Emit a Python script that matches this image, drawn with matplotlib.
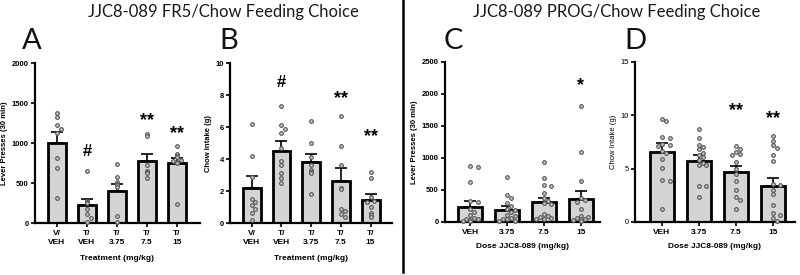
import matplotlib.pyplot as plt
import numpy as np

plt.rcParams['font.family'] = ['Liberation Sans', 'DejaVu Sans']

# ---- data ----
fr5_labels = ['V/\nVEH', 'T/\nVEH', 'T/\n3.75', 'T/\n7.5', 'T/\n15']
prog_labels = ['VEH', '3.75', '7.5', '15']

# A: FR5 lever presses
a_mean = [1000, 225, 398, 773, 745]
a_sem = [133, 72, 95, 92, 70]
a_pts = [
    [1380, 1320, 1230, 1180, 1120, 810, 690, 310],
    [650, 270, 260, 250, 170, 110, 60, 15],
    [740, 580, 510, 490, 470, 450, 90, 10],
    [1110, 1090, 730, 650, 640, 640, 630, 560],
    [960, 860, 840, 830, 790, 770, 760, 750, 240],
]
a_sig = ['', '#', '', '**', '**']
a_sig_y = [0, 900, 0, 1275, 1120]

# B: FR5 chow intake
b_mean = [2.2, 4.5, 3.83, 2.62, 1.46]
b_sem = [0.75, 0.6, 0.5, 0.83, 0.38]
b_pts = [
    [6.2, 4.2, 2.85, 1.5, 1.3, 1.1, 0.85, 0.6, 0.2],
    [7.3, 6.1, 5.9, 5.6, 4.7, 3.9, 3.6, 3.1, 2.8, 2.5],
    [6.4, 5.0, 4.1, 3.6, 3.3, 3.2, 3.1, 1.8],
    [6.7, 4.8, 3.6, 2.2, 2.1, 0.9, 0.75, 0.55, 0.4],
    [3.2, 2.8, 1.6, 1.4, 1.3, 1.0, 0.6, 0.5, 0.4],
]
b_sig = ['', '#', '', '**', '**']
b_sig_y = [0, 8.8, 0, 7.8, 5.4]

# C: PROG lever presses
c_mean = [230, 183, 314, 356]
c_sem = [100, 68, 68, 136]
c_pts = [
    [870, 860, 620, 330, 310, 200, 150, 110, 70, 50, 40, 30, 20, 10, 10],
    [700, 420, 370, 300, 250, 200, 190, 160, 110, 90, 60, 50, 40, 20, 10],
    [930, 690, 580, 560, 450, 370, 330, 300, 280, 130, 100, 80, 60, 50, 40],
    [1810, 1100, 640, 380, 350, 320, 210, 90, 80, 60, 50, 40, 30, 20],
]
c_sig = ['', '', '', '*']
c_sig_y = [0, 0, 0, 2130]

# D: PROG chow intake
d_mean = [6.6, 5.74, 4.71, 3.36]
d_sem = [0.78, 0.54, 0.5, 0.72]
d_pts = [
    [9.7, 9.5, 8.0, 7.9, 7.3, 7.2, 7.1, 6.7, 6.5, 5.9, 5.1, 3.9, 3.8, 1.2],
    [8.7, 7.9, 7.2, 7.0, 6.8, 6.5, 6.3, 6.1, 5.8, 5.5, 5.3, 5.3, 3.4, 3.4, 2.3],
    [7.1, 6.8, 6.6, 6.4, 6.3, 5.6, 5.0, 4.5, 3.8, 3.0, 2.3, 2.1, 1.2],
    [8.1, 7.6, 7.2, 6.9, 6.3, 5.7, 3.6, 3.5, 3.0, 2.6, 1.6, 0.8, 0.7, 0.4, 0.1],
]
d_sig = ['', '', '**', '**']
d_sig_y = [0, 0, 10.4, 9.7]

W, H = 800, 275
fig = plt.figure(figsize=(W / 100, H / 100), dpi=100)


def swarm(vals, px_per_y, px_per_x, diam=4.2, maxw=0.25):
    # simple deterministic beeswarm offsets
    placed = []
    offs = []
    step = diam / px_per_x * 0.9
    for v in vals:
        y = v * px_per_y
        k = 0
        while True:
            cands = [0.0] if k == 0 else [k * step, -k * step]
            ok = None
            for c in cands:
                if abs(c) > maxw:
                    continue
                if all((c * px_per_x - px) ** 2 + (y - py) ** 2 >= diam ** 2 for px, py in placed):
                    ok = c
                    break
            if ok is not None or k * step > maxw:
                c = ok if ok is not None else 0.0
                break
            k += 1
        placed.append((c * px_per_x, y))
        offs.append(c)
    return offs


def panel(box, labels, means, sems, pts, sig, sig_y, ymax, yticks, xlim, width,
          ylabel, xlabel, bold=True, xlabel_pad=2):
    l, r, b, t = box
    ax = fig.add_axes([l / W, 1 - b / H, (r - l) / W, (b - t) / H])
    x = np.arange(len(means))
    ax.bar(x, means, width=width, color='#d4d4d4', edgecolor='black', linewidth=2.0, zorder=2)
    ax.errorbar(x, means, yerr=[np.zeros(len(sems)), sems], fmt='none', ecolor='black',
                elinewidth=1.2, capsize=4, capthick=1.2, zorder=3)
    px_y = (b - t) / ymax
    px_x = (r - l) / (xlim[1] - xlim[0])
    for i, p in enumerate(pts):
        offs = swarm(p, px_y, px_x)
        ax.scatter(i + np.array(offs), p, s=7, facecolor='#c8c8c8', edgecolor='#555555',
                   linewidth=0.8, zorder=4, clip_on=False)
    wt = 'bold' if bold else 'normal'
    for i, (s, sy) in enumerate(zip(sig, sig_y)):
        if s:
            ax.text(i, sy, s, ha='center', va='center', fontsize=13 if s != '#' else 12,
                    fontweight='bold', color='black')
    ax.set_xlim(*xlim)
    ax.set_ylim(0, ymax)
    ax.set_yticks(yticks)
    ax.set_xticks(x)
    ax.set_xticklabels(labels, fontsize=6, fontweight='bold', linespacing=1.5)
    ax.tick_params(axis='y', labelsize=5.5, width=1.2, length=3, pad=1.5)
    ax.tick_params(axis='x', width=1.2, length=3, pad=2)
    for lab in ax.get_yticklabels():
        lab.set_fontweight(wt)
    ax.spines['top'].set_visible(False)
    ax.spines['right'].set_visible(False)
    ax.spines['left'].set_linewidth(1.6)
    ax.spines['bottom'].set_linewidth(1.6)
    ax.set_ylabel(ylabel, fontsize=5.5, fontweight=wt, labelpad=2.5)
    ax.set_xlabel(xlabel, fontsize=6, fontweight='bold', labelpad=xlabel_pad)
    ax.patch.set_visible(False)
    return ax


panel((35, 200, 223, 63), fr5_labels, a_mean, a_sem, a_pts, a_sig, a_sig_y,
      2000, [0, 500, 1000, 1500, 2000], (-0.73, 4.77), 0.6,
      'Lever Presses (30 min)', 'Treatment (mg/kg)', xlabel_pad=6)
panel((230, 392, 223, 63), fr5_labels, b_mean, b_sem, b_pts, b_sig, b_sig_y,
      10, [0, 2, 4, 6, 8, 10], (-0.73, 4.72), 0.6,
      'Chow Intake (g)', 'Treatment (mg/kg)', xlabel_pad=6)
panel((445, 600, 222, 62), prog_labels, c_mean, c_sem, c_pts, c_sig, c_sig_y,
      2500, [0, 500, 1000, 1500, 2000, 2500], (-0.68, 3.52), 0.65,
      'Lever Presses (30 min)', 'Dose JJC8-089 (mg/kg)', xlabel_pad=5)
panel((635, 795, 222, 62), prog_labels, d_mean, d_sem, d_pts, d_sig, d_sig_y,
      15, [0, 5, 10, 15], (-0.73, 3.6), 0.65,
      'Chow Intake (g)', 'Dose JJC8-089 (mg/kg)', bold=False, xlabel_pad=5)

# titles and panel letters
fig.text(223 / W, 1 - 12 / H, 'JJC8-089 FR5/Chow Feeding Choice', ha='center', va='center',
         fontsize=12, color='#1a1a1a', family=['Lato', 'DejaVu Sans'])
fig.text(617 / W, 1 - 12 / H, 'JJC8-089 PROG/Chow Feeding Choice', ha='center', va='center',
         fontsize=12, color='#1a1a1a', family=['Lato', 'DejaVu Sans'])
for letter, lx in [('A', 22), ('B', 219), ('C', 444), ('D', 624)]:
    fig.text(lx / W, 1 - 41 / H, letter, ha='left', va='center', fontsize=21,
             color='#111111', family=['Lato', 'DejaVu Sans'])

# divider between the two experiments
fig.add_artist(plt.Line2D([403 / W, 403 / W], [1 - 272 / H, 1.0], color='black', linewidth=1.8))

fig.savefig('out.png', dpi=100)
